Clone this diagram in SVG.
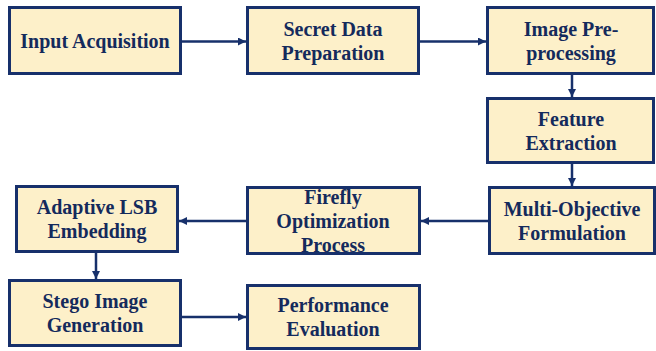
<svg xmlns="http://www.w3.org/2000/svg" width="656" height="351" viewBox="0 0 656 351">
  <style>
    .box { fill: #fdf0c9; stroke: #17306b; stroke-width: 3; }
    .edge { stroke: #17306b; stroke-width: 2.5; fill: none; }
    .lbl { font-family: "Liberation Serif", "Times New Roman", serif; font-weight: bold; font-size: 20px; fill: #142a5c; text-anchor: middle; }
  </style>
  <defs>
    <marker id="arrow" viewBox="0 0 10 10" refX="10" refY="5" markerWidth="3.2" markerHeight="3.2" orient="auto" markerUnits="strokeWidth">
      <path d="M0,0 L10,5 L0,10 Z" fill="#17306b"/>
    </marker>
    <clipPath id="clipFirefly"><rect x="248.5" y="188.5" width="170" height="64"/></clipPath>
  </defs>

  <g id="connectors">
    <line class="edge" x1="181" y1="41.5" x2="246" y2="41.5" marker-end="url(#arrow)"/>
    <line class="edge" x1="419" y1="41.5" x2="486" y2="41.5" marker-end="url(#arrow)"/>
    <line class="edge" x1="572" y1="74" x2="572" y2="97" marker-end="url(#arrow)"/>
    <line class="edge" x1="572" y1="163" x2="572" y2="186" marker-end="url(#arrow)"/>
    <line class="edge" x1="489" y1="221" x2="421" y2="221" marker-end="url(#arrow)"/>
    <line class="edge" x1="247" y1="221" x2="179" y2="221" marker-end="url(#arrow)"/>
    <line class="edge" x1="96" y1="252" x2="96" y2="279" marker-end="url(#arrow)"/>
    <line class="edge" x1="181" y1="317" x2="246" y2="317" marker-end="url(#arrow)"/>
  </g>

  <g id="input-acquisition">
    <rect class="box" x="9.5" y="7.5" width="171" height="66"/>
    <text class="lbl" x="95" y="48">Input Acquisition</text>
  </g>

  <g id="secret-data-preparation">
    <rect class="box" x="247.5" y="7.5" width="171" height="66"/>
    <text class="lbl" x="333" y="35.5">Secret Data</text>
    <text class="lbl" x="333" y="59.5">Preparation</text>
  </g>

  <g id="image-preprocessing">
    <rect class="box" x="487.5" y="7.5" width="166" height="66"/>
    <text class="lbl" x="571" y="35.5">Image Pre-</text>
    <text class="lbl" x="571" y="59.5">processing</text>
  </g>

  <g id="feature-extraction">
    <rect class="box" x="487.5" y="98.5" width="166" height="64"/>
    <text class="lbl" x="571" y="125.5">Feature</text>
    <text class="lbl" x="571" y="149.5">Extraction</text>
  </g>

  <g id="multi-objective-formulation">
    <rect class="box" x="489.5" y="187.5" width="165" height="66"/>
    <text class="lbl" x="572" y="215.5">Multi-Objective</text>
    <text class="lbl" x="572" y="239.5">Formulation</text>
  </g>

  <g id="firefly-optimization-process">
    <rect class="box" x="247.5" y="187.5" width="172" height="66"/>
    <g clip-path="url(#clipFirefly)">
      <text class="lbl" x="333" y="204">Firefly</text>
      <text class="lbl" x="333" y="228">Optimization</text>
      <text class="lbl" x="333" y="252">Process</text>
    </g>
    <rect x="247.5" y="187.5" width="172" height="66" fill="none" stroke="#17306b" stroke-width="3"/>
  </g>

  <g id="adaptive-lsb-embedding">
    <rect class="box" x="16.5" y="186.5" width="161" height="65"/>
    <text class="lbl" x="97" y="214">Adaptive LSB</text>
    <text class="lbl" x="97" y="238">Embedding</text>
  </g>

  <g id="stego-image-generation">
    <rect class="box" x="9.5" y="280.5" width="171" height="65"/>
    <text class="lbl" x="95" y="308">Stego Image</text>
    <text class="lbl" x="95" y="332">Generation</text>
  </g>

  <g id="performance-evaluation">
    <rect class="box" x="247.5" y="285.5" width="172" height="63"/>
    <text class="lbl" x="333" y="312">Performance</text>
    <text class="lbl" x="333" y="336">Evaluation</text>
  </g>
</svg>
